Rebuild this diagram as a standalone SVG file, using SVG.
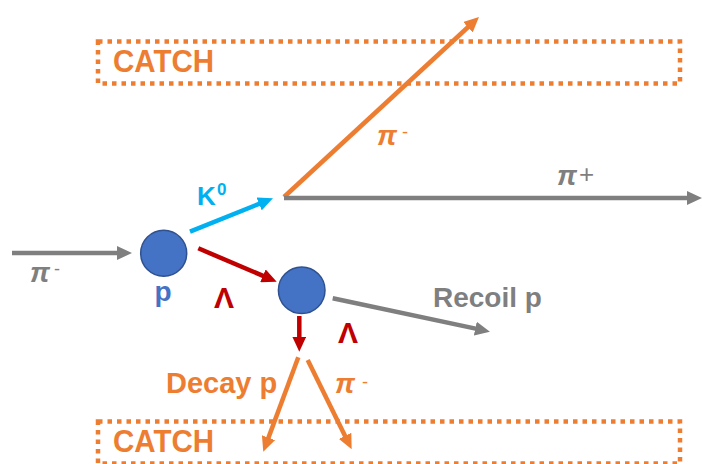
<svg xmlns="http://www.w3.org/2000/svg" width="702" height="464" viewBox="0 0 702 464">
<style>
.box{fill:none;stroke:#ED7D31;stroke-width:4.5;stroke-dasharray:4.5 5}
.boxlbl{font-family:"Liberation Sans",Arial,sans-serif;font-weight:bold;font-size:31px;fill:#ED7D31}
.ln{fill:none;stroke-width:4.5}
.gray{stroke:#7F7F7F}.orange{stroke:#ED7D31}.cyan{stroke:#00B0F0}.red{stroke:#C00000}
.t{font-family:"Liberation Sans",Arial,sans-serif;font-weight:bold}
.pi{font-family:"Liberation Sans",Arial,sans-serif;font-weight:bold;font-style:italic;font-size:28px}
.sup{font-family:"Liberation Sans",Arial,sans-serif;font-weight:normal;font-style:normal}
.node{fill:#4472C4;stroke:#2F528F;stroke-width:1.5}
</style>
<defs>
<marker id="ag" markerUnits="userSpaceOnUse" markerWidth="15" markerHeight="14" viewBox="0 0 15 14" refX="4" refY="7" orient="auto"><path d="M0,0 L15,7 L0,14 z" fill="#7F7F7F"/></marker>
<marker id="ao" markerUnits="userSpaceOnUse" markerWidth="15" markerHeight="14" viewBox="0 0 15 14" refX="4" refY="7" orient="auto"><path d="M0,0 L15,7 L0,14 z" fill="#ED7D31"/></marker>
<marker id="ac" markerUnits="userSpaceOnUse" markerWidth="15" markerHeight="14" viewBox="0 0 15 14" refX="4" refY="7" orient="auto"><path d="M0,0 L15,7 L0,14 z" fill="#00B0F0"/></marker>
<marker id="ar" markerUnits="userSpaceOnUse" markerWidth="15" markerHeight="14" viewBox="0 0 15 14" refX="4" refY="7" orient="auto"><path d="M0,0 L15,7 L0,14 z" fill="#C00000"/></marker>
</defs>
<rect width="702" height="464" fill="#FFFFFF"/>
<g id="catch-top">
<rect class="box" x="98" y="41.5" width="582" height="42"/>
<text class="boxlbl" x="113" y="72" textLength="101" lengthAdjust="spacingAndGlyphs">CATCH</text>
</g>
<g id="catch-bottom">
<rect class="box" x="98" y="421.5" width="582" height="42"/>
<text class="boxlbl" x="113" y="452" textLength="101" lengthAdjust="spacingAndGlyphs">CATCH</text>
</g>
<g id="connectors">
<line class="ln gray" x1="12" y1="253" x2="121" y2="253" marker-end="url(#ag)"/>
<line class="ln cyan" x1="190" y1="231.7" x2="262.8" y2="202.4" marker-end="url(#ac)"/>
<line class="ln red" x1="198.3" y1="248.3" x2="266.6" y2="277.4" marker-end="url(#ar)"/>
<line class="ln orange" x1="284" y1="197" x2="470.9" y2="24.5" marker-end="url(#ao)"/>
<line class="ln gray" x1="284" y1="198" x2="691" y2="198" marker-end="url(#ag)"/>
<line class="ln gray" x1="332.7" y1="298.3" x2="479.2" y2="329.4" marker-end="url(#ag)"/>
<line class="ln red" x1="299.3" y1="316" x2="299.3" y2="340.7" marker-end="url(#ar)"/>
<line class="ln orange" x1="298.3" y1="357.3" x2="267.1" y2="441.4" marker-end="url(#ao)"/>
<line class="ln orange" x1="307.7" y1="360" x2="346.8" y2="439.4" marker-end="url(#ao)"/>
</g>
<g id="node-p">
<circle class="node" cx="163.7" cy="253.3" r="23"/>
<text class="t" x="163" y="301" font-size="28" fill="#4472C4" text-anchor="middle">p</text>
</g>
<g id="node-lambda">
<circle class="node" cx="301.7" cy="290.3" r="23.3"/>
</g>
<g id="labels">
<text class="pi" x="30" y="282" fill="#7F7F7F">π<tspan class="sup" x="54" y="275" font-size="18">-</tspan></text>
<text class="t" x="197" y="205" font-size="26" fill="#00B0F0">K<tspan x="217" y="195" font-size="17">0</tspan></text>
<text class="t" x="224" y="308" font-size="30" fill="#C00000" text-anchor="middle">Λ</text>
<text class="t" x="348" y="342.7" font-size="30" fill="#C00000" text-anchor="middle">Λ</text>
<text class="pi" x="377" y="145" fill="#ED7D31">π<tspan class="sup" x="402" y="138" font-size="18">-</tspan></text>
<text class="pi" x="557" y="185" fill="#7F7F7F">π<tspan class="sup" x="579" y="183" font-size="26">+</tspan></text>
<text class="t" x="433" y="307" font-size="28" fill="#7F7F7F">Recoil p</text>
<text class="t" x="166" y="393" font-size="29" fill="#ED7D31">Decay p</text>
<text class="pi" x="335" y="393" fill="#ED7D31">π<tspan class="sup" x="362" y="388" font-size="18">-</tspan></text>
</g>
</svg>
